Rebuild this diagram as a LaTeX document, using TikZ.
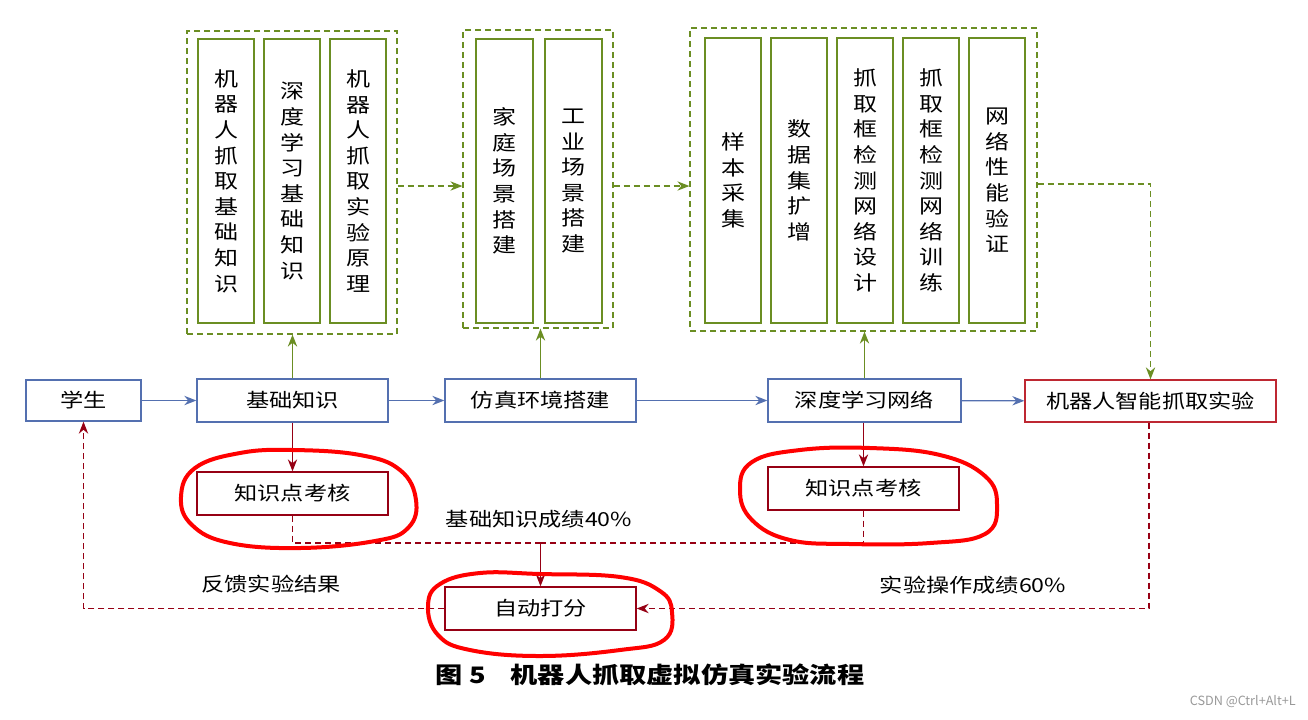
\documentclass[tikz,border=0pt]{standalone}
\usepackage{fontspec}
\setmainfont{Noto Sans CJK SC}
\newfontfamily\cjk{Noto Sans CJK SC}[FakeStretch=1.2]
\newfontfamily\cjkplain{Noto Sans CJK SC}
\usetikzlibrary{arrows.meta}
\definecolor{bline}{RGB}{84,112,176}
\definecolor{gline}{RGB}{107,142,35}
\definecolor{dred}{RGB}{150,0,20}
\definecolor{rbox}{RGB}{190,40,50}
\definecolor{hred}{RGB}{255,0,0}
\begin{document}
\begin{tikzpicture}[x=0.75pt,y=-0.75pt,
  bbox/.style={draw=bline,line width=1pt,minimum height=32.25pt,minimum width=143.25pt,inner sep=0pt,font=\cjk\fontsize{14.5}{16}\selectfont},
  rbx/.style={bbox,draw=dred},
  vbox/.style={draw=gline,line width=1pt,minimum width=42pt,minimum height=213pt,inner sep=0pt,align=center,font=\cjk\fontsize{15}{19.2}\selectfont},
  grp/.style={draw=gline,line width=0.9pt,dash pattern=on 4.5pt off 3pt,inner sep=0pt},
  barrow/.style={draw=bline,line width=0.9pt,-{Stealth[length=9pt,width=7pt]}},
  garrow/.style={draw=gline,line width=0.9pt,dash pattern=on 4.5pt off 3pt,-{Stealth[length=9pt,width=7pt]}},
  gsolid/.style={draw=gline,line width=0.9pt,-{Stealth[length=9pt,width=7pt]}},
  rsolid/.style={draw=dred,line width=0.9pt,-{Stealth[length=9pt,width=7pt]}},
  rdash/.style={draw=dred,line width=0.9pt,dash pattern=on 4.5pt off 3pt},
  lbl/.style={font=\cjk\fontsize{14.5}{16}\selectfont,inner sep=0pt},
  hand/.style={draw=hred,line width=3pt,line join=round}
]
\useasboundingbox (0,0) rectangle (1308,719);
\fill[white] (0,0) rectangle (1308,719);

% main row
\node[bbox,minimum width=86.25pt,minimum height=30.75pt] (stu) at (83.5,400.5) {学生};
\node[bbox] (jc) at (292.5,400.5) {基础知识};
\node[bbox] (fz) at (540.5,400.5) {仿真环境搭建};
\node[bbox,minimum width=144.75pt] (sd) at (864.5,400.5) {深度学习网络};
\node[bbox,draw=rbox,minimum width=188.25pt,minimum height=31.5pt] (exp) at (1150.5,401) {机器人智能抓取实验};

\node[rbx] (kh1) at (292.5,493.5) {知识点考核};
\node[rbx] (kh2) at (863.5,488.5) {知识点考核};
\node[rbx] (df) at (540.5,608.5) {自动打分};

% groups
\node[grp,minimum width=157.5pt,minimum height=227.25pt] (g1) at (292,182.5) {};
\node[grp,minimum width=112.5pt,minimum height=223.5pt] (g2) at (538,179) {};
\node[grp,minimum width=260.25pt,minimum height=227.25pt] (g3) at (863.5,179.5) {};

\node[vbox] (a1) at (226,181) {机\\器\\人\\抓\\取\\基\\础\\知\\识};
\node[vbox] (a2) at (292,181) {深\\度\\学\\习\\基\\础\\知\\识};
\node[vbox] (a3) at (358,181) {机\\器\\人\\抓\\取\\实\\验\\原\\理};
\node[vbox,minimum width=42.75pt] (b1) at (504.5,181) {家\\庭\\场\\景\\搭\\建};
\node[vbox,minimum width=42.75pt] (b2) at (573.5,181) {工\\业\\场\\景\\搭\\建};
\node[vbox,minimum height=213.75pt] (c1) at (733,180.5) {样\\本\\采\\集};
\node[vbox,minimum height=213.75pt] (c2) at (799,180.5) {数\\据\\集\\扩\\增};
\node[vbox,minimum height=213.75pt] (c3) at (865,180.5) {抓\\取\\框\\检\\测\\网\\络\\设\\计};
\node[vbox,minimum height=213.75pt] (c4) at (931,180.5) {抓\\取\\框\\检\\测\\网\\络\\训\\练};
\node[vbox,minimum height=213.75pt] (c5) at (997,180.5) {网\\络\\性\\能\\验\\证};

% blue flow
\draw[barrow] (stu) -- (jc);
\draw[barrow] (jc) -- (fz);
\draw[barrow] (fz) -- (sd);
\draw[barrow] (sd) -- (exp);

% green
\draw[gsolid] (jc.north) -- (jc.north |- g1.south);
\draw[gsolid] (fz.north) -- (fz.north |- g2.south);
\draw[gsolid] (sd.north) -- (sd.north |- g3.south);
\draw[garrow] (g1.east |- 0,186) -- (g2.west |- 0,186);
\draw[garrow] (g2.east |- 0,186) -- (g3.west |- 0,186);
\draw[garrow] (g3.east |- 0,184) -| (exp.north);

% red
\draw[rsolid] (jc) -- (kh1);
\draw[rsolid] (sd.south -| kh2.north) -- (kh2.north);
\coordinate (j) at (540.5,543);
\draw[rdash] (kh1.south) |- (j);
\draw[rdash] (kh2.south) |- (j);
\draw[rsolid] (j) -- (df.north);
\draw[rdash,-{Stealth[length=9pt,width=7pt]}] (exp.south -| 1149,0) |- (df.east);
\draw[rdash,-{Stealth[length=9pt,width=7pt]}] (df.west) -| (stu.south);

\node[lbl] (l1) at (539,519) {基础知识成绩40\%};
\node[lbl] (l2) at (271,584) {反馈实验结果};
\node[lbl] (l3) at (973,585) {实验操作成绩60\%};

% hand-drawn circles
\draw[hand] plot[smooth cycle,tension=0.7] coordinates {(293,450) (360,455) (400,470) (416,500) (408,528) (375,541) (300,548) (230,543) (192,525) (181,497) (195,468) (240,453)};
\draw[hand] plot[smooth cycle,tension=0.7] coordinates {(870,448) (940,455) (985,476) (997,505) (985,534) (930,543) (850,544) (790,540) (752,520) (740,490) (752,462) (800,450)};
\draw[hand] plot[smooth cycle,tension=0.7] coordinates {(540,574) (620,577) (660,591) (672,612) (664,640) (620,650) (540,656) (470,650) (438,635) (428,606) (440,584) (480,573)};

% caption
\node[font=\cjk\bfseries\fontsize{17}{19}\selectfont,inner sep=0pt] (cap) at (650,675) {图 5\hspace{1.1em}机器人抓取虚拟仿真实验流程};
\node[font=\cjkplain\fontsize{9.5}{11}\selectfont,text=black!40,anchor=east,inner sep=0pt] (wm) at (1296,702) {CSDN @Ctrl+Alt+L};
\end{tikzpicture}
\end{document}
